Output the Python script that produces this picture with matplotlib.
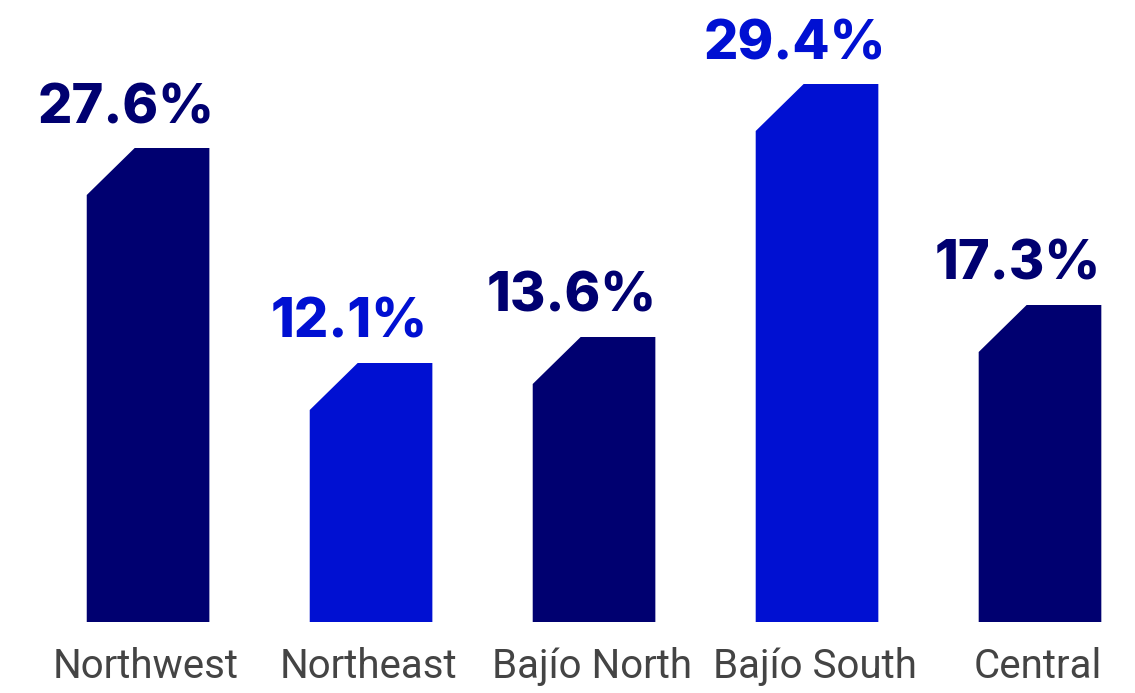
import matplotlib
matplotlib.use("Agg")
import matplotlib.pyplot as plt
from matplotlib.patches import Polygon

regions = ["Northwest", "Northeast", "Bajío North", "Bajío South", "Central"]
shares = [27.6, 12.1, 13.6, 29.4, 17.3]
# bar heights as drawn in the picture (the source chart is not to scale)
bar_heights = [474, 259, 285, 538, 317]
colors = ["#000070", "#0010d2", "#000070", "#0010d2", "#000070"]

width = 0.55
cut_x, cut_y = 0.215, 47

fig = plt.figure(figsize=(11.35, 6.93), dpi=100)
ax = fig.add_axes([0, 0, 1, 1])
ax.set_xlim(-0.664, 4.426)
ax.set_ylim(-71, 622)
ax.axis("off")

for i, (h, v, c, name) in enumerate(zip(bar_heights, shares, colors, regions)):
    x0, x1 = i - width / 2, i + width / 2
    pts = [(x0, 0), (x1, 0), (x1, h), (x0 + cut_x, h), (x0, h - cut_y)]
    ax.add_patch(Polygon(pts, closed=True, color=c, lw=0))
    ax.text(i - 0.1, h + 25, f"{v}%", ha="center", va="baseline",
            fontsize=39, fontweight="heavy", color=c, family="Inter")
    ax.text(i - 0.01, -45, name, ha="center", va="center",
            fontsize=29, color="#444444", family="Roboto")

fig.savefig("out.png", dpi=100)
